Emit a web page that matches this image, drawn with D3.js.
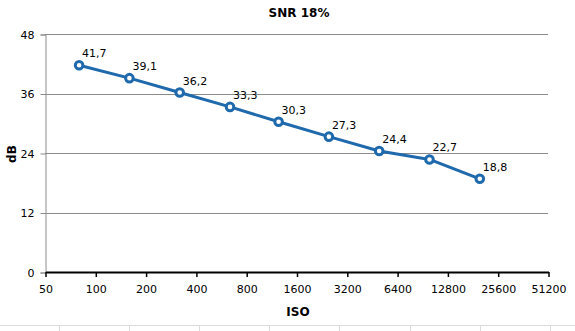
<!DOCTYPE html>
<html><head><meta charset="utf-8">
<script src="https://cdn.jsdelivr.net/npm/d3@7"></script>
<style>body{margin:0;background:#fff}svg{display:block}text{font-family:"DejaVu Sans",Verdana,sans-serif}</style>
</head><body>
<svg id="c" width="575" height="331"></svg>
<script>
const isoValues = [80, 160, 320, 640, 1250, 2500, 5000, 10000, 20000];
const snrValues = [41.7, 39.1, 36.2, 33.3, 30.3, 27.3, 24.4, 22.7, 18.8];
const snrLabels = ["41,7","39,1","36,2","33,3","30,3","27,3","24,4","22,7","18,8"];
const xTicks = [50,100,200,400,800,1600,3200,6400,12800,25600,51200];
const yTicks = [0,12,24,36,48];

const svg = d3.select("#c");
const x = d3.scaleLog().base(2).domain([50, 51200]).range([45, 548]);
const y = d3.scaleLinear().domain([0, 48]).range([272, 34]);

// spreadsheet cell lines at bottom
const cellX = [59,129,199,269,339,410,480,550];
svg.append("line").attr("x1",0).attr("x2",575).attr("y1",325.5).attr("y2",325.5).attr("stroke","#dadada");
cellX.forEach(cx=>svg.append("line").attr("x1",cx+0.5).attr("x2",cx+0.5).attr("y1",325).attr("y2",331).attr("stroke","#dadada"));

// gridlines
svg.append("g").selectAll("line").data(yTicks.filter(d=>d>0)).join("line")
  .attr("x1",45).attr("x2",548).attr("y1",d=>Math.round(y(d))+0.5).attr("y2",d=>Math.round(y(d))+0.5)
  .attr("stroke","#8c8c8c").attr("stroke-width",1);

// y axis
const ya = svg.append("g").attr("transform","translate(45.5,0.5)")
  .call(d3.axisLeft(y).tickValues(yTicks).tickSize(5).tickPadding(6));
ya.select(".domain").attr("stroke","#8c8c8c");
ya.selectAll(".tick line").attr("stroke","#8c8c8c");
ya.selectAll("text").attr("font-size",11).attr("fill","#000");

// x axis
const xa = svg.append("g").attr("transform","translate(0.5,272)")
  .call(d3.axisBottom(x).tickValues(xTicks).tickFormat(d3.format("d")).tickSize(5).tickSizeOuter(0).tickPadding(8));
xa.select(".domain").attr("stroke","#000").attr("stroke-width",2);
xa.selectAll(".tick line").attr("stroke","#000").attr("stroke-width",1.5);
xa.selectAll("text").attr("font-size",11).attr("fill","#000");

// line
const pts = isoValues.map((v,i)=>[x(v), y(snrValues[i])]);
svg.append("path").attr("d", d3.line()(pts)).attr("fill","none")
  .attr("stroke","#1f69ad").attr("stroke-width",3).attr("stroke-linejoin","round");
svg.append("g").selectAll("circle").data(pts).join("circle")
  .attr("cx",d=>d[0]).attr("cy",d=>d[1]).attr("r",3.8)
  .attr("fill","#fff").attr("stroke","#1f69ad").attr("stroke-width",3);

// data labels
svg.append("g").selectAll("text").data(pts).join("text")
  .attr("x",d=>d[0]+3).attr("y",d=>d[1]-8).attr("font-size",11).attr("fill","#000")
  .text((d,i)=>snrLabels[i]);

// titles
svg.append("text").attr("x",299).attr("y",17).attr("text-anchor","middle")
  .attr("font-size",12).attr("font-weight","bold").text("SNR 18%");
svg.append("text").attr("x",298).attr("y",316).attr("text-anchor","middle")
  .attr("font-size",12).attr("font-weight","bold").text("ISO");
svg.append("text").attr("transform","translate(16,154) rotate(-90)").attr("text-anchor","middle")
  .attr("font-size",12).attr("font-weight","bold").text("dB");
</script>
</body></html>
